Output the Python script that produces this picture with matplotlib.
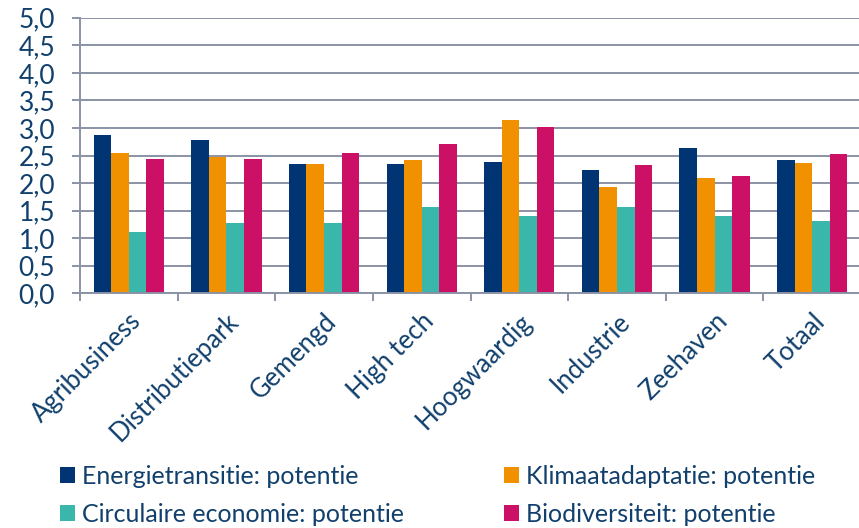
import matplotlib
matplotlib.use("Agg")
import matplotlib.pyplot as plt
import matplotlib.transforms as mtransforms
from matplotlib.patches import Patch
import numpy as np

categories = ["Agribusiness", "Distributiepark", "Gemengd", "High tech",
              "Hoogwaardig", "Industrie", "Zeehaven", "Totaal"]
energietransitie = [2.87, 2.79, 2.34, 2.35, 2.38, 2.23, 2.64, 2.41]
klimaatadaptatie = [2.54, 2.47, 2.35, 2.41, 3.15, 1.93, 2.09, 2.36]
circulaire = [1.11, 1.28, 1.28, 1.56, 1.40, 1.57, 1.40, 1.31]
biodiversiteit = [2.44, 2.44, 2.55, 2.70, 3.02, 2.32, 2.12, 2.52]
series_names = ["Energietransitie: potentie", "Klimaatadaptatie: potentie",
                "Circulaire economie: potentie", "Biodiversiteit: potentie"]
yticks = [0.0, 0.5, 1.0, 1.5, 2.0, 2.5, 3.0, 3.5, 4.0, 4.5, 5.0]

colors = ["#003473", "#F29100", "#3BB6AB", "#CB1066"]
text_color = "#11406D"
grid_color = "#8A93A4"

plt.rcParams['font.family'] = ['Lato', 'DejaVu Sans']

fig = plt.figure(figsize=(8.59, 5.28), dpi=100)
ax = fig.add_axes([80/859, 1-293.3/528, 781/859, (293.3-17.7)/528])

x = np.arange(len(categories))
w = 0.18
all_series = [energietransitie, klimaatadaptatie, circulaire, biodiversiteit]
for i, (vals, c) in enumerate(zip(all_series, colors)):
    ax.bar(x + (i - 1.5) * w, vals, width=w, color=c, zorder=3)

ax.set_xlim(-0.5, len(categories) - 0.5)
ax.set_ylim(0, 5)
ax.set_yticks(yticks)
ax.set_yticklabels([f"{v:.1f}".replace('.', ',') for v in yticks])
ax.yaxis.grid(True, color=grid_color, linewidth=1.4, zorder=0)
ax.set_axisbelow(True)

for s in ['top', 'right']:
    ax.spines[s].set_visible(False)
for s in ['left', 'bottom']:
    ax.spines[s].set_color(grid_color)
    ax.spines[s].set_linewidth(1.4)
    ax.spines[s].set_zorder(4)

ax.tick_params(axis='y', length=6, width=1.4, color=grid_color, pad=12,
               labelsize=19, labelcolor=text_color)
ax.set_xticks(x)
ax.set_xticks(np.arange(-0.5, len(categories)), minor=True)
ax.tick_params(axis='x', which='major', length=0, pad=11, labelsize=18.5,
               labelcolor=text_color)
ax.tick_params(axis='x', which='minor', length=6, width=1.4, color=grid_color)
ax.set_xticklabels(categories, rotation=45, rotation_mode='anchor',
                   ha='right', va='top')

order = [0, 2, 1, 3]
handles = [Patch(facecolor=colors[i], edgecolor='none') for i in order]
labels = [series_names[i] for i in order]
leg = fig.legend(handles, labels, loc='upper left',
                 bbox_to_anchor=(60/859, 1-465/528), ncol=2, frameon=False,
                 fontsize=18, handlelength=0.6, handleheight=0.6,
                 handletextpad=0.28, columnspacing=4.0, labelspacing=0.58,
                 borderaxespad=0, borderpad=0)
for t in leg.get_texts():
    t.set_color(text_color)

fig.savefig("out.png", dpi=100)
